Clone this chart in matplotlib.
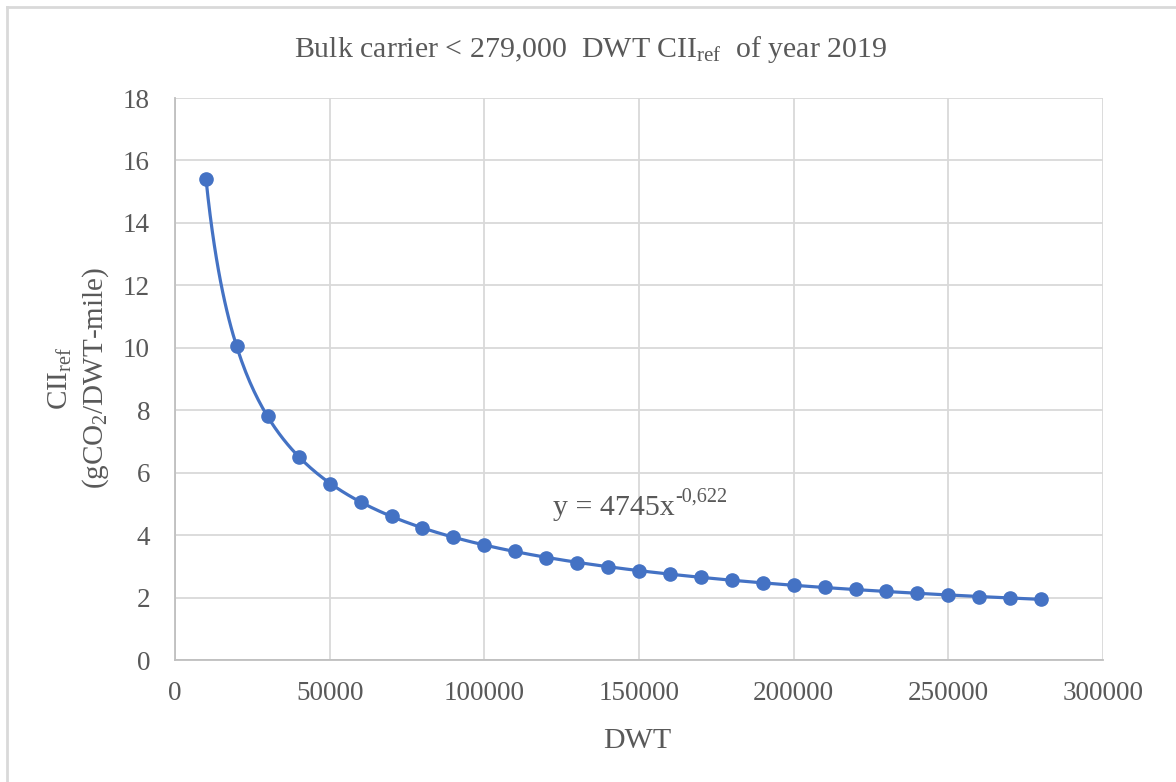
import matplotlib.pyplot as plt
import numpy as np

plt.rcParams['font.family'] = ['Liberation Serif', 'DejaVu Serif']
plt.rcParams['mathtext.fontset'] = 'custom'
plt.rcParams['mathtext.rm'] = 'Liberation Serif'
plt.rcParams['mathtext.it'] = 'Liberation Serif:italic'

# CII reference values per ship size (bulk carriers, 2019)
dwt = [10000, 20000, 30000, 40000, 50000, 60000, 70000, 80000, 90000, 100000,
       110000, 120000, 130000, 140000, 150000, 160000, 170000, 180000, 190000,
       200000, 210000, 220000, 230000, 240000, 250000, 260000, 270000, 280000]
cii_ref = [15.4, 10.05, 7.8, 6.5, 5.65, 5.05, 4.6, 4.22, 3.95, 3.68,
           3.48, 3.28, 3.12, 2.98, 2.85, 2.75, 2.65, 2.56, 2.48,
           2.40, 2.33, 2.26, 2.20, 2.14, 2.09, 2.03, 1.98, 1.94]

# power fit reported on the chart: y = a * x^b
fit_a = 4745
fit_b = -0.622

x_ticks = [0, 50000, 100000, 150000, 200000, 250000, 300000]
y_ticks = [0, 2, 4, 6, 8, 10, 12, 14, 16, 18]

blue = '#4472C4'
text_gray = '#595959'

W, H = 1176, 782
fig = plt.figure(figsize=(W / 100, H / 100), dpi=100)
ax = fig.add_axes([175 / W, 1 - 660 / H, 928 / W, 562 / H])

# smooth curve through the points
xs = np.linspace(dwt[0], dwt[-1], 400)
ax.plot(xs, fit_a * xs ** fit_b, color=blue, lw=2.3, zorder=3)
ax.plot(dwt, cii_ref, 'o', color=blue, ms=9.5, zorder=4)

ax.set_xlim(0, 300000)
ax.set_ylim(0, 18)
ax.set_xticks(x_ticks)
ax.set_yticks(y_ticks)
ax.set_xticklabels([str(v) for v in x_ticks])
ax.tick_params(length=0, labelsize=19.5, labelcolor=text_gray)
ax.tick_params(axis='x', pad=15)
ax.tick_params(axis='y', pad=18)

ax.grid(True, color='#d9d9d9', lw=1.3)
ax.set_axisbelow(True)
for side in ['top', 'right']:
    ax.spines[side].set_visible(False)
for side in ['left', 'bottom']:
    ax.spines[side].set_color('#bfbfbf')
    ax.spines[side].set_linewidth(1.3)

# axis titles
fig.text(637 / W, 1 - 748 / H, 'DWT', fontsize=21.5, color=text_gray,
         ha='center', va='baseline')
fig.text(79 / W, 1 - 378 / H, 'CII$_{\\mathrm{ref}}$\n(gCO$_2$/DWT-mile)',
         fontsize=21, color=text_gray, rotation=90, ha='center', va='center',
         multialignment='center', linespacing=1.25)

fig.text(591 / W, 1 - 57 / H,
         'Bulk carrier < 279,000  DWT CII$_{\\mathrm{ref}}$  of year 2019',
         ha='center', va='baseline', fontsize=21.5, color=text_gray)

# trendline equation
eq = ax.text(122200, 4.64, 'y = 4745x', fontsize=21.5, color=text_gray,
             ha='left', va='baseline')
ax.annotate('-0,622', xy=(1.0, 0.58), xycoords=eq, fontsize=14.5,
            color=text_gray, ha='left', va='bottom')

# chart border
fig.add_artist(plt.Line2D([7 / W, 7 / W], [0, 1 - 7 / H],
                          color='#d9d9d9', lw=2, transform=fig.transFigure))
fig.add_artist(plt.Line2D([7 / W, 1], [1 - 7 / H, 1 - 7 / H],
                          color='#d9d9d9', lw=2, transform=fig.transFigure))

fig.savefig('out.png', dpi=100)
